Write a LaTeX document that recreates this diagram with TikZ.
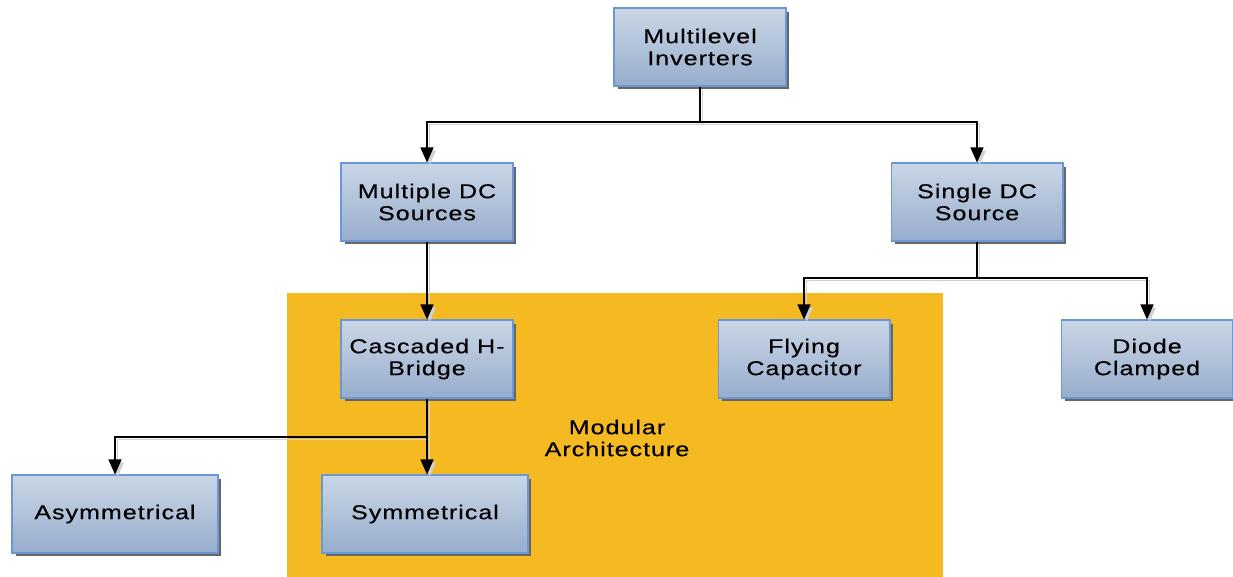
\documentclass[tikz,border=0pt]{standalone}
\usepackage{fontspec}
\setmainfont{Liberation Sans}[FakeStretch=1.25,LetterSpace=5,FakeBold=0.4]
\usetikzlibrary{positioning,shadows,arrows.meta}

\definecolor{boxtop}{HTML}{CAD6E6}
\definecolor{boxbottom}{HTML}{97ADCD}
\definecolor{boxline}{HTML}{6A98D4}
\definecolor{modular}{HTML}{F5BA22}

\tikzset{
  block/.style={rectangle,draw=boxline,line width=0.6pt,top color=boxtop,bottom color=boxbottom,
    minimum width=3.44cm,minimum height=1.56cm,align=center,inner sep=2pt,
    font=\fontsize{11.4}{12.5}\selectfont,
    drop shadow={shadow xshift=0.07cm,shadow yshift=-0.07cm,fill=black!60,opacity=1}},
  wideblock/.style={block,minimum width=4.12cm},
  link/.style={draw=black,line width=0.8pt,-{Triangle[length=0.3cm,width=0.26cm]},
    preaction={draw=black!18,transform canvas={xshift=1.6pt,yshift=-1.6pt}}}
}

\begin{document}
\begin{tikzpicture}[x=0.02cm,y=-0.02cm]
\useasboundingbox (0,0) rectangle (1233,577);

% modular architecture area
\fill[modular] (287,293) rectangle (943,577);
\node[align=center,font=\fontsize{11.4}{12.5}\selectfont] (modtext) at (617,438) {Modular\\Architecture};

% tree of inverter types
\node[block] (inv) at (700,47) {Multilevel\\Inverters};
\node[block] (mdc) at (427,202) {Multiple DC\\Sources};
\node[block] (sdc) at (977,202) {Single DC\\Source};
\node[block] (chb) at (427,359) {Cascaded H-\\Bridge};
\node[block] (fc) at (804,359) {Flying\\Capacitor};
\node[block] (dc) at (1147,359) {Diode\\Clamped};
\node[wideblock] (asym) at (115,514) {Asymmetrical};
\node[wideblock] (sym) at (425,514) {Symmetrical};

\coordinate (fork1) at (700,122);
\coordinate (fork2) at (977,278);
\coordinate (fork3) at (427,437);

\draw[link] (inv.south) -- (fork1) -| (mdc.north);
\draw[link] (fork1) -| (sdc.north);
\draw[link] (mdc.south) -- (chb.north);
\draw[link] (sdc.south) -- (fork2) -| (fc.north);
\draw[link] (fork2) -| (dc.north);
\draw[link] (chb.south) -- (fork3) -| (asym.north);
\draw[link] (fork3) -- (sym.north -| fork3);
\end{tikzpicture}
\end{document}
